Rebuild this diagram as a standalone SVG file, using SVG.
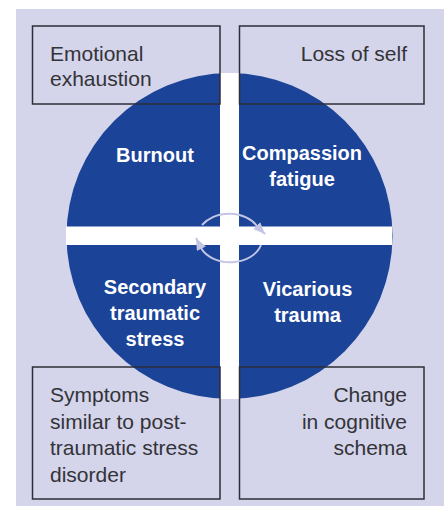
<svg xmlns="http://www.w3.org/2000/svg" width="444" height="506" viewBox="0 0 444 506">
<defs>
<style>
.box{fill:none;stroke:#2e2e38;stroke-width:1.5}
.bt{font-family:"Liberation Sans",Arial,sans-serif;font-size:21px;fill:#333338}
.ct{font-family:"Liberation Sans",Arial,sans-serif;font-size:20px;font-weight:bold;fill:#ffffff;text-anchor:middle}
.cyc{fill:none;stroke:#c4c5e5;stroke-width:2}
</style>
<marker id="ah" markerUnits="userSpaceOnUse" markerWidth="14" markerHeight="12" refX="12" refY="5" orient="auto">
<path d="M0,0 L12,5 L0,10 z" fill="#c4c5e5"/>
</marker>
</defs>
<rect x="16" y="9" width="428" height="497" fill="#d4d4ea"/>
<g id="circle">
<circle cx="229.5" cy="236" r="163" fill="#1b4398"/>
<rect x="220" y="73" width="19" height="326" fill="#ffffff"/>
<rect x="66" y="226.5" width="326" height="18.5" fill="#ffffff"/>
</g>
<g id="connectors">
<path class="cyc" d="M 202 225 A 32 24 0 0 1 257 226 L 265 234" marker-end="url(#ah)"/>
<path class="cyc" d="M 261 245 A 32 24 0 0 1 201 248 L 196 238" marker-end="url(#ah)"/>
</g>
<g id="burnout"><text class="ct" x="155" y="161.5">Burnout</text></g>
<g id="compassion"><text class="ct" x="302" y="160">Compassion<tspan x="302" y="186">fatigue</tspan></text></g>
<g id="secondary"><text class="ct" x="155" y="294">Secondary<tspan x="155" y="320">traumatic</tspan><tspan x="155" y="346">stress</tspan></text></g>
<g id="vicarious"><text class="ct" x="307.5" y="295.5">Vicarious<tspan x="307.5" y="321.5">trauma</tspan></text></g>
<g id="box-emotional">
<rect class="box" x="32.5" y="26" width="187.5" height="78"/>
<text class="bt" x="50" y="61">Emotional<tspan x="50" y="86">exhaustion</tspan></text>
</g>
<g id="box-loss">
<rect class="box" x="239.5" y="26" width="184.5" height="78"/>
<text class="bt" x="407" y="61" text-anchor="end">Loss of self</text>
</g>
<g id="box-symptoms">
<rect class="box" x="32.5" y="367" width="187.5" height="132"/>
<text class="bt" x="50" y="402">Symptoms<tspan x="50" y="428.5">similar to post-</tspan><tspan x="50" y="455">traumatic stress</tspan><tspan x="50" y="481.5">disorder</tspan></text>
</g>
<g id="box-change">
<rect class="box" x="239.5" y="367" width="184.5" height="132"/>
<text class="bt" x="407" y="402" text-anchor="end">Change<tspan x="407" y="428.5">in cognitive</tspan><tspan x="407" y="455">schema</tspan></text>
</g>
</svg>
